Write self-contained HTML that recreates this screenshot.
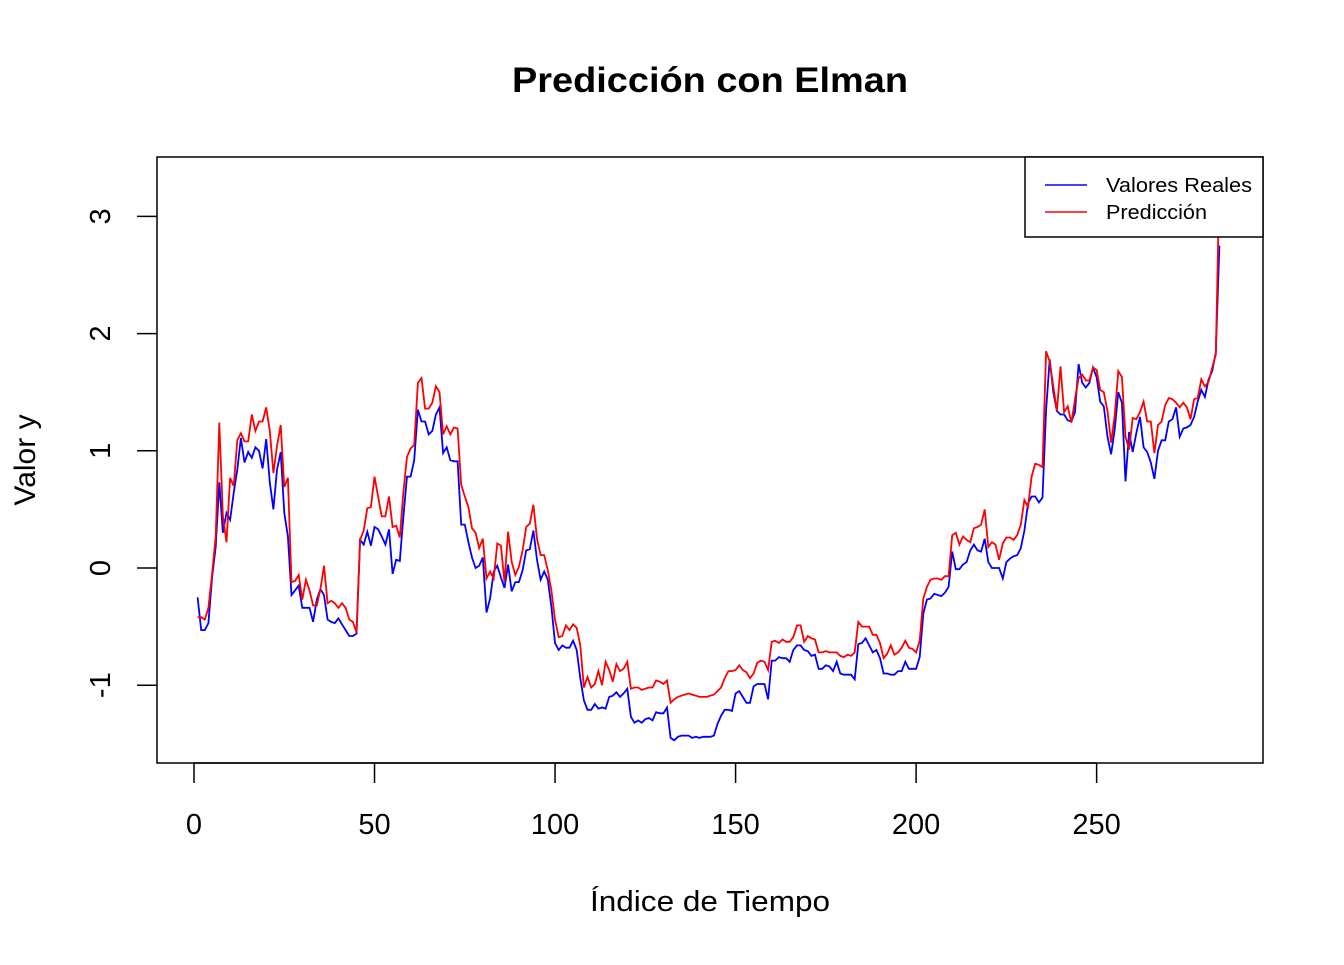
<!DOCTYPE html>
<html><head><meta charset="utf-8"><style>
body{margin:0;background:#fff}
svg text{font-family:"Liberation Sans",Arial,sans-serif}
</style></head><body>
<svg width="1344" height="960" viewBox="0 0 1344 960">
<rect width="1344" height="960" fill="#fff"/>
<text x="512" y="92" font-size="35" font-weight="bold" textLength="396" lengthAdjust="spacingAndGlyphs">Predicción con Elman</text>
<g id="plot"></g>
<g id="axes"></g>
<rect x="157" y="157" width="1106" height="606" fill="none" stroke="#000" stroke-width="1.5"/>
<g>
<rect x="1025" y="157" width="238" height="80" fill="#fff" stroke="#000" stroke-width="1.5"/>
<line x1="1045" y1="185" x2="1087" y2="185" stroke="#0000ff" stroke-width="1.5"/>
<text x="1106" y="192" font-size="20" textLength="146" lengthAdjust="spacingAndGlyphs">Valores Reales</text>
<line x1="1045" y1="212" x2="1087" y2="212" stroke="#ff0000" stroke-width="1.5"/>
<text x="1106" y="219" font-size="20" textLength="101" lengthAdjust="spacingAndGlyphs">Predicción</text>
</g>
<text x="590" y="911" font-size="29" textLength="240" lengthAdjust="spacingAndGlyphs">Índice de Tiempo</text>
<text transform="translate(35,460) rotate(-90)" text-anchor="middle" font-size="30">Valor y</text>
</svg>
<script>
const xTicks=[0,50,100,150,200,250];
const yTicks=[-1,0,1,2,3];
const realValues=[-0.25,-0.53,-0.53,-0.47,-0.08,0.18,0.73,0.30,0.47,0.41,0.64,0.84,1.11,0.90,0.99,0.94,1.03,1.0,0.85,1.10,0.73,0.50,0.84,0.99,0.47,0.27,-0.23,-0.19,-0.15,-0.34,-0.34,-0.34,-0.46,-0.27,-0.18,-0.23,-0.44,-0.46,-0.47,-0.43,-0.48,-0.53,-0.58,-0.58,-0.56,0.24,0.20,0.31,0.19,0.35,0.33,0.27,0.20,0.33,-0.05,0.07,0.06,0.44,0.78,0.78,0.92,1.35,1.25,1.25,1.14,1.17,1.31,1.37,0.98,1.03,0.92,0.91,0.91,0.37,0.37,0.22,0.09,0.0,0.02,0.09,-0.38,-0.26,-0.03,0.02,-0.08,-0.17,0.03,-0.2,-0.12,-0.12,-0.02,0.15,0.16,0.32,0.07,-0.1,-0.03,-0.1,-0.33,-0.64,-0.70,-0.66,-0.68,-0.68,-0.62,-0.70,-0.94,-1.13,-1.21,-1.21,-1.16,-1.2,-1.19,-1.2,-1.10,-1.09,-1.06,-1.10,-1.07,-1.03,-1.27,-1.32,-1.30,-1.32,-1.29,-1.28,-1.30,-1.23,-1.24,-1.24,-1.19,-1.45,-1.47,-1.44,-1.43,-1.43,-1.43,-1.45,-1.44,-1.45,-1.44,-1.44,-1.44,-1.43,-1.33,-1.26,-1.21,-1.21,-1.22,-1.07,-1.05,-1.10,-1.15,-1.15,-1.01,-0.99,-0.99,-0.99,-1.12,-0.79,-0.79,-0.76,-0.77,-0.77,-0.80,-0.70,-0.66,-0.66,-0.70,-0.71,-0.75,-0.74,-0.86,-0.86,-0.83,-0.84,-0.88,-0.80,-0.90,-0.91,-0.91,-0.91,-0.95,-0.65,-0.64,-0.60,-0.66,-0.72,-0.70,-0.77,-0.90,-0.90,-0.91,-0.91,-0.88,-0.88,-0.80,-0.86,-0.86,-0.86,-0.76,-0.39,-0.27,-0.26,-0.22,-0.23,-0.24,-0.21,-0.16,0.14,-0.01,-0.01,0.03,0.05,0.15,0.20,0.15,0.14,0.25,0.05,0.0,0.0,0.0,-0.09,0.05,0.08,0.10,0.11,0.17,0.32,0.55,0.61,0.61,0.56,0.60,1.35,1.78,1.50,1.34,1.31,1.31,1.26,1.25,1.33,1.74,1.58,1.54,1.58,1.71,1.63,1.42,1.38,1.12,0.97,1.18,1.50,1.41,0.74,1.16,0.99,1.15,1.29,1.03,0.99,0.90,0.76,1.0,1.09,1.09,1.25,1.27,1.37,1.12,1.19,1.2,1.22,1.29,1.42,1.52,1.46,1.61,1.68,1.84,2.75];
const predValues=[-0.42,-0.42,-0.44,-0.34,-0.05,0.27,1.24,0.44,0.22,0.77,0.70,1.09,1.15,1.08,1.08,1.31,1.17,1.25,1.25,1.37,1.17,0.81,1.04,1.22,0.69,0.77,-0.12,-0.11,-0.06,-0.27,-0.1,-0.19,-0.32,-0.32,-0.18,0.02,-0.3,-0.28,-0.3,-0.34,-0.3,-0.34,-0.44,-0.46,-0.55,0.24,0.32,0.51,0.52,0.78,0.61,0.44,0.44,0.61,0.35,0.36,0.26,0.65,0.95,1.02,1.05,1.58,1.62,1.36,1.36,1.41,1.55,1.50,1.14,1.21,1.14,1.2,1.19,0.71,0.61,0.52,0.34,0.30,0.17,0.25,-0.09,-0.03,-0.09,0.21,0.19,-0.12,0.31,0.05,-0.06,0.01,0.15,0.35,0.38,0.54,0.25,0.11,0.11,-0.02,-0.19,-0.44,-0.59,-0.58,-0.49,-0.53,-0.48,-0.51,-0.66,-1.02,-0.93,-1.02,-0.99,-0.88,-1.0,-0.80,-0.87,-0.97,-0.82,-0.88,-0.86,-0.8,-1.03,-1.02,-1.02,-1.04,-1.03,-1.02,-1.02,-0.96,-0.97,-0.99,-0.96,-1.15,-1.12,-1.10,-1.09,-1.08,-1.07,-1.08,-1.09,-1.10,-1.10,-1.10,-1.09,-1.08,-1.05,-1.02,-0.94,-0.88,-0.88,-0.87,-0.83,-0.87,-0.89,-0.94,-0.9,-0.81,-0.79,-0.8,-0.87,-0.63,-0.62,-0.64,-0.61,-0.63,-0.63,-0.59,-0.49,-0.49,-0.63,-0.58,-0.6,-0.61,-0.72,-0.72,-0.71,-0.72,-0.72,-0.72,-0.75,-0.76,-0.74,-0.75,-0.72,-0.46,-0.5,-0.5,-0.5,-0.57,-0.57,-0.64,-0.77,-0.73,-0.66,-0.74,-0.72,-0.68,-0.62,-0.68,-0.69,-0.72,-0.62,-0.26,-0.16,-0.1,-0.09,-0.09,-0.1,-0.07,-0.07,0.28,0.3,0.2,0.27,0.24,0.22,0.34,0.35,0.37,0.5,0.18,0.22,0.2,0.07,0.21,0.26,0.26,0.24,0.28,0.37,0.58,0.52,0.78,0.89,0.88,0.86,1.85,1.76,1.55,1.34,1.72,1.33,1.38,1.24,1.44,1.62,1.65,1.6,1.6,1.71,1.69,1.52,1.5,1.34,1.07,1.30,1.68,1.63,1.12,1.01,1.28,1.27,1.33,1.42,1.25,1.25,0.98,1.22,1.25,1.39,1.45,1.44,1.41,1.37,1.41,1.37,1.27,1.44,1.45,1.61,1.55,1.59,1.71,1.82,3.3];
const xs=i=>194+i*3.6105;
const ys=v=>568-v*117.2;
const NS='http://www.w3.org/2000/svg';
const plot=document.getElementById('plot'),axes=document.getElementById('axes');
const clip=document.createElementNS(NS,'clipPath');clip.setAttribute('id','c');
const cr=document.createElementNS(NS,'rect');cr.setAttribute('x',157);cr.setAttribute('y',157);cr.setAttribute('width',1106);cr.setAttribute('height',606);
clip.appendChild(cr);plot.appendChild(clip);plot.setAttribute('clip-path','url(#c)');
function series(vals,color,name){
  const p=document.createElementNS(NS,'polyline');
  p.setAttribute('points',vals.map((v,k)=>xs(k+1).toFixed(1)+','+ys(v).toFixed(1)).join(' '));
  p.setAttribute('fill','none');p.setAttribute('stroke',color);p.setAttribute('stroke-width','1.8');
  
  
  plot.appendChild(p);
}
series(realValues,'#0000ff','real-values-line');
series(predValues,'#ff0000','prediction-line');
xTicks.forEach(t=>{
  const l=document.createElementNS(NS,'line');
  l.setAttribute('x1',xs(t));l.setAttribute('x2',xs(t));l.setAttribute('y1',763);l.setAttribute('y2',783);l.setAttribute('stroke','#000');l.setAttribute('stroke-width','1.5');
  
  
  axes.appendChild(l);
  const tx=document.createElementNS(NS,'text');
  tx.setAttribute('x',xs(t));tx.setAttribute('y',834);tx.setAttribute('text-anchor','middle');tx.setAttribute('font-size','29');
  tx.textContent=t;
  
  
  axes.appendChild(tx);
});
const xl=document.createElementNS(NS,'line');
xl.setAttribute('x1',xs(0));xl.setAttribute('x2',xs(250));xl.setAttribute('y1',763);xl.setAttribute('y2',763);xl.setAttribute('stroke','#000');xl.setAttribute('stroke-width','1.5');


axes.appendChild(xl);
yTicks.forEach(t=>{
  const l=document.createElementNS(NS,'line');
  l.setAttribute('x1',137);l.setAttribute('x2',157);l.setAttribute('y1',ys(t));l.setAttribute('y2',ys(t));l.setAttribute('stroke','#000');l.setAttribute('stroke-width','1.5');
  
  
  axes.appendChild(l);
  const tx=document.createElementNS(NS,'text');
  tx.setAttribute('transform','translate(110,'+ys(t)+') rotate(-90)');tx.setAttribute('text-anchor','middle');tx.setAttribute('font-size','29');
  tx.textContent=t;
  
  
  axes.appendChild(tx);
});
</script>
</body></html>
